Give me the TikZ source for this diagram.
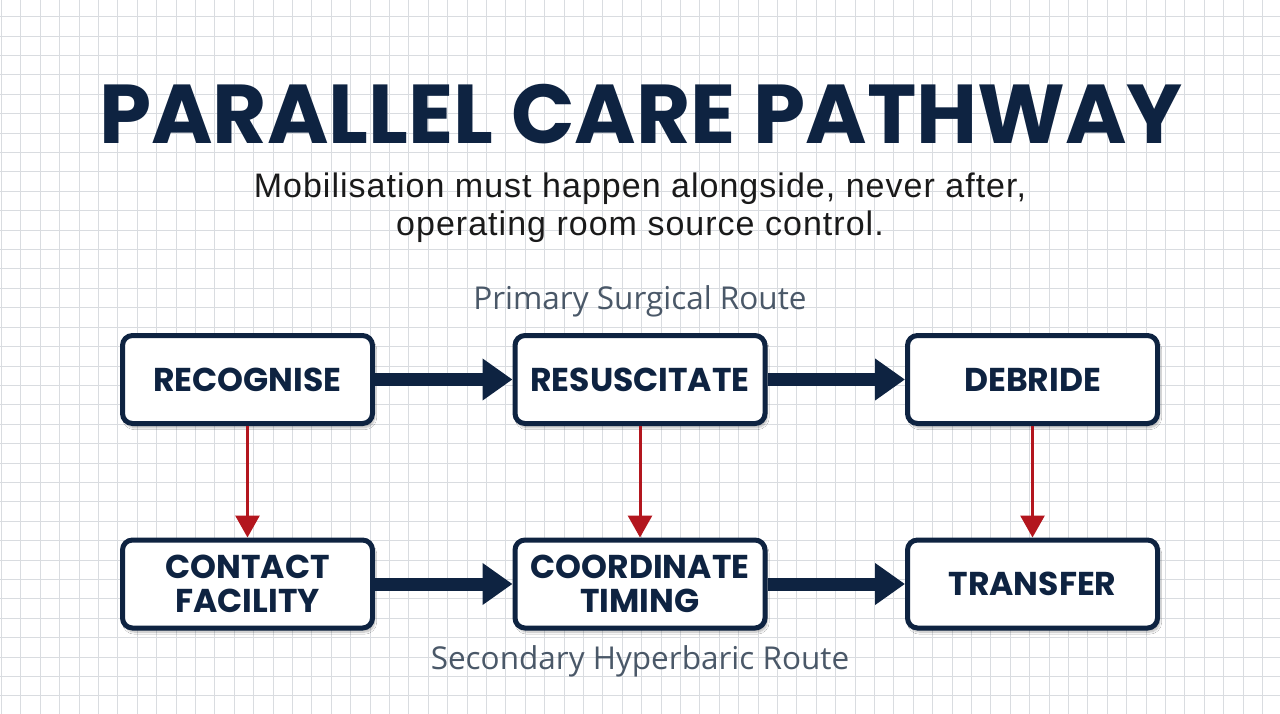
\documentclass[tikz,border=0pt]{standalone}
\usepackage{fontspec}
\setmainfont{Liberation Sans}
\newfontfamily\popfont{Poppins}
\newfontfamily\labfont{Open Sans}
\newfontfamily\subfont{Liberation Sans}[LetterSpace=3]
\usetikzlibrary{arrows.meta,shadows.blur}
\definecolor{navy}{HTML}{0E2341}
\definecolor{redarr}{HTML}{B3161E}
\definecolor{gridc}{HTML}{D9DCE0}
\definecolor{labc}{HTML}{4A5868}
\definecolor{subc}{HTML}{1A1A1A}
\tikzset{
  stepbox/.style={draw=navy, line width=5pt, rounded corners=10pt, fill=white,
    minimum width=250pt, minimum height=88pt, align=center, text=navy,
    font=\popfont\bfseries\fontsize{33}{34}\selectfont,
    blur shadow={shadow xshift=2pt, shadow yshift=-4pt, shadow blur steps=10, shadow opacity=30}},
  mainarrow/.style={draw=navy, line width=13pt, -{Triangle[width=40pt,length=30pt]}},
  redarrow/.style={draw=redarr, line width=3pt, -{Triangle[width=24pt,length=22pt]}},
  routelabel/.style={text=labc, font=\labfont\fontsize{31.5}{33}\selectfont},
}
\begin{document}
\begin{tikzpicture}[x=1pt,y=-1pt]
\useasboundingbox (0,0) rectangle (1280,714);
\fill[white] (0,0) rectangle (1280,714);
\foreach \i in {0,...,66} {
  \draw[gridc, line width=0.8pt] ({1.3+19.4*\i},0) -- ({1.3+19.4*\i},714);
}
\foreach \j in {0,...,37} {
  \draw[gridc, line width=0.8pt] (0,{-2.7+19.4*\j}) -- (1280,{-2.7+19.4*\j});
}
\node[text=navy, inner sep=0pt, font=\popfont\bfseries\fontsize{83.5}{86}\selectfont] (title) at (641,114) {PARALLEL CARE PATHWAY};
\node[text=subc, align=center, inner sep=0pt, font=\subfont\fontsize{34}{38}\selectfont] (sub) at (640,208) {Mobilisation must happen alongside, never after,\\operating room source control.};
\node[routelabel] (primary) at (640,301) {Primary Surgical Route};
\node[routelabel] (secondary) at (640,661) {Secondary Hyperbaric Route};

\node[stepbox] (rec) at (247.5,379.5) {RECOGNISE};
\node[stepbox] (res) at (640,379.5) {RESUSCITATE};
\node[stepbox] (deb) at (1032.5,379.5) {DEBRIDE};
\node[stepbox] (con) at (247.5,584) {CONTACT\\FACILITY};
\node[stepbox] (coo) at (640,584) {COORDINATE\\TIMING};
\node[stepbox] (tra) at (1032.5,584) {TRANSFER};

\draw[mainarrow] (rec.east) -- (res.west);
\draw[mainarrow] (res.east) -- (deb.west);
\draw[mainarrow] (con.east) -- (coo.west);
\draw[mainarrow] (coo.east) -- (tra.west);
\draw[redarrow] (rec.south) -- (con.north);
\draw[redarrow] (res.south) -- (coo.north);
\draw[redarrow] (deb.south) -- (tra.north);
\end{tikzpicture}
\end{document}
